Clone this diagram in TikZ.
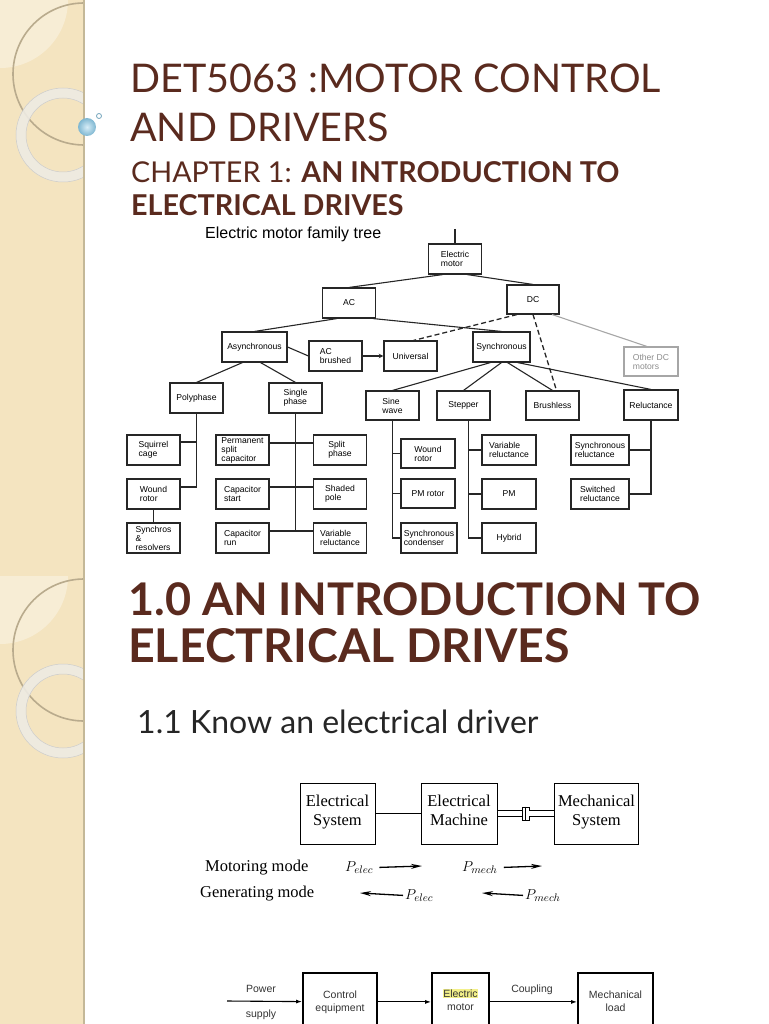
\documentclass[tikz,border=0pt]{standalone}
\usepackage{fontspec}
\setmainfont{Liberation Serif}
\setsansfont{Liberation Sans}
\newfontfamily\gillfont{Lato}
\usetikzlibrary{arrows.meta}

\definecolor{stripbeige}{HTML}{F4E4C0}
\definecolor{stripedge}{HTML}{C4B898}
\definecolor{ringtan}{HTML}{B9AB8D}
\definecolor{ringwhite}{HTML}{EEEBE3}
\definecolor{titlebrown}{HTML}{5A2A1E}
\definecolor{bubble}{HTML}{8CCBE8}
\definecolor{hilite}{HTML}{F3F08A}

\tikzset{
  treebox/.style={draw=black!85, line width=1.1pt, rectangle, minimum width=53pt, minimum height=30pt,
    inner sep=1pt, align=left, font=\sffamily\fontsize{8.6}{9}\selectfont},
  treeline/.style={line width=1.1pt, black!85},
  blockbox/.style={draw, line width=1pt, rectangle, minimum height=61pt,
    font=\fontsize{16.5}{19}\selectfont, align=center},
  drivebox/.style={draw, line width=1.8pt, rectangle, anchor=north, minimum height=58pt,
    text=black!80, font=\sffamily\fontsize{10.5}{13}\selectfont, align=center},
  flow/.style={line width=1.3pt, -{Stealth[length=11pt, width=5pt]}},
  pwr/.style={line width=1.1pt, -{Latex[length=6pt, width=4pt]}},
}

\begin{document}
\begin{tikzpicture}[x=1pt, y=-1pt, >=stealth]
\useasboundingbox (0,0) rectangle (768,1024);

% left strip of both slides
\fill[stripbeige] (0,0) rectangle (84,1024);
\foreach \oy in {0,576} {
  \begin{scope}[shift={(0,\oy)}]
    \clip (0,0) rectangle (84,576);
    \fill[white, opacity=0.35] (0,0) circle (68);
    \draw[ringtan, line width=1.6pt] (84,74) circle (71);
    \draw[ringwhite, line width=10pt, opacity=0.9] (63,135) circle (42);
    \draw[black!20, line width=0.5pt] (63,135) circle (47) (63,135) circle (37);
  \end{scope}
}
\draw[stripedge, line width=2pt] (84,0) -- (84,1024);
\shade[inner color=bubble!35!white, outer color=bubble!90!black] (87,127) circle (9);
\draw[bubble!80!black, line width=0.8pt] (99,116) circle (2.5);

% slide 1 titles
\node[anchor=base west, inner sep=0, text=titlebrown, font=\gillfont\fontsize{39.5}{40}\selectfont] (title1) at (130,93) {DET5063 :MOTOR CONTROL};
\node[anchor=base west, inner sep=0, text=titlebrown, font=\gillfont\fontsize{39.5}{40}\selectfont] (title2) at (130,142) {AND DRIVERS};
\node[anchor=base west, inner sep=0, text=titlebrown, font=\gillfont\fontsize{28.7}{29}\selectfont] (chap1) at (131,183) {CHAPTER 1: \textbf{AN INTRODUCTION TO}};
\node[anchor=base west, inner sep=0, text=titlebrown, font=\gillfont\fontsize{28.7}{29}\selectfont] (chap2) at (131,216) {\textbf{ELECTRICAL DRIVES}};
\node[anchor=base west, inner sep=0, font=\sffamily\fontsize{16}{16}\selectfont] (treetitle) at (205,238) {Electric motor family tree};

% family tree
\node[treebox] (em) at (455,259) {Electric\\motor};
\node[treebox] (ac) at (349,303) {AC};
\node[treebox, minimum width=52pt, minimum height=29pt] (dc) at (533,299.5) {DC};
\node[treebox, minimum width=65pt] (async) at (254.5,347) {Asynchronous};
\node[treebox] (acb) at (335.5,356) {AC\\brushed};
\node[treebox] (univ) at (410.5,356) {Universal};
\node[treebox, minimum width=57pt] (sync) at (501.5,347) {Synchronous};
\node[treebox, draw=black!35, text=black!45, minimum width=54pt, minimum height=29pt] (odc) at (651,361.5) {Other DC\\motors};
\node[treebox] (poly) at (196.5,398) {Polyphase};
\node[treebox] (single) at (295.5,398) {Single\\phase};
\node[treebox, minimum height=29pt] (sine) at (392.5,405.5) {Sine\\wave};
\node[treebox, minimum height=29pt] (step) at (463.5,405.5) {Stepper};
\node[treebox, minimum height=29pt] (brush) at (552.5,405.5) {Brushless};
\node[treebox, minimum width=54pt] (rel) at (651,405) {Reluctance};
\node[treebox] (sq) at (153.5,450) {Squirrel\\cage};
\node[treebox] (wr1) at (153.5,494) {Wound\\rotor};
\node[treebox] (syn1) at (153.5,538) {Synchros\\\&\\resolvers};
\node[treebox] (psc) at (242.5,450) {Permanent\\split\\capacitor};
\node[treebox] (cs) at (242.5,494) {Capacitor\\start};
\node[treebox] (cr) at (242.5,538) {Capacitor\\run};
\node[treebox] (sp) at (340,450) {Split\\phase};
\node[treebox] (shp) at (340,494) {Shaded\\pole};
\node[treebox] (vr1) at (340,538) {Variable\\reluctance};
\node[treebox, minimum width=54pt, minimum height=29pt] (wr2) at (428,453.5) {Wound\\rotor};
\node[treebox, minimum width=54pt, minimum height=29pt] (pmr) at (428,493.5) {PM rotor};
\node[treebox, minimum width=56pt] (sc) at (429,538) {Synchronous\\condenser};
\node[treebox, minimum width=54pt] (vr2) at (509,450) {Variable\\reluctance};
\node[treebox, minimum width=54pt] (pm) at (509,494) {PM};
\node[treebox, minimum width=54pt] (hyb) at (509,538) {Hybrid};
\node[treebox, minimum width=58pt] (sr) at (600,450) {Synchronous\\reluctance};
\node[treebox, minimum width=58pt] (swr) at (600,494) {Switched\\reluctance};
\coordinate (emtop) at (455,229);

\draw[treeline] (emtop) -- (em);
\draw[treeline] ([xshift=-12pt]em.south) -- (ac.north);
\draw[treeline] ([xshift=12pt]em.south) -- (dc.north);
\draw[treeline] ([xshift=-12pt]ac.south) -- (async.north);
\draw[treeline] ([xshift=24pt]ac.south) -- (sync.north);
\draw[treeline] (async.east) -- (acb.west);
\draw[treeline, ->] (acb) -- (univ);
\draw[treeline, line width=1.3pt, dash pattern=on 5pt off 3pt] ([xshift=-16pt]dc.south) -- ([xshift=3pt]univ.north);
\draw[treeline, line width=1.3pt, dash pattern=on 5pt off 3pt] (dc.south) -- ([xshift=4pt]brush.north);
\draw[treeline, black!35] ([xshift=19pt]dc.south) -- ([xshift=-4pt]odc.north);
\draw[treeline] ([xshift=-12pt]async.south) -- (poly.north);
\draw[treeline] ([xshift=6pt]async.south) -- (single.north);
\draw[treeline] ([xshift=-11pt]sync.south) -- (sine.north);
\draw[treeline] (sync.south) -- (step.north);
\draw[treeline] ([xshift=6pt]sync.south) -- (brush.north);
\draw[treeline] ([xshift=16pt]sync.south) -- (rel.north);

\draw[treeline] (poly.south) |- ([yshift=8pt]sq.east);
\draw[treeline] (poly.south) |- ([yshift=7pt]wr1.east);
\draw[treeline] (wr1) -- (syn1);
\draw[treeline] (single.south) |- ([yshift=7pt]cr.east);
\draw[treeline] ([yshift=7pt]psc.east) -- ([yshift=7pt]sp.west);
\draw[treeline] ([yshift=7pt]cs.east) -- ([yshift=7pt]shp.west);
\draw[treeline] ([yshift=7pt]cr.east) -- ([yshift=7pt]vr1.west);
\draw[treeline] (sine.south) |- (wr2.west);
\draw[treeline] (sine.south) |- (pmr.west);
\draw[treeline] (sine.south) |- (sc.west);
\draw[treeline] ([xshift=5pt]step.south) |- (vr2.west);
\draw[treeline] ([xshift=5pt]step.south) |- (pm.west);
\draw[treeline] ([xshift=5pt]step.south) |- (hyb.west);
\draw[treeline] (rel.south) |- (sr.east);
\draw[treeline] (rel.south) |- (swr.east);

% slide 2 titles
\node[anchor=base west, inner sep=0, text=titlebrown, font=\gillfont\bfseries\fontsize{45}{45}\selectfont] (sec1) at (128,615) {1.0 AN INTRODUCTION TO};
\node[anchor=base west, inner sep=0, text=titlebrown, font=\gillfont\bfseries\fontsize{46.5}{45}\selectfont] (sec2) at (128,662) {ELECTRICAL DRIVES};
\node[anchor=base west, inner sep=0, text=black!85, font=\gillfont\fontsize{32}{32}\selectfont] (sub) at (137,733) {1.1 Know an electrical driver};

% electrical / mechanical system
\node[blockbox, minimum width=75pt] (es) at (337.5,813.5) {Electrical\\System\strut};
\node[blockbox, minimum width=76pt] (mach) at (459,813.5) {Electrical\\Machine\strut};
\node[blockbox, minimum width=83pt] (ms) at (596.5,813.5) {Mechanical\\System\strut};
\node[draw, fill=white, line width=0.8pt, minimum width=7pt, minimum height=13pt, inner sep=0] (cpl) at (525.5,813.5) {};
\draw[line width=1pt] (es) -- (mach);
\draw[line width=0.8pt, double distance=5pt] (mach) -- (cpl);
\draw[line width=0.8pt, double distance=5pt] (cpl) -- (ms);
\draw[line width=0.8pt] (cpl.north) -- (cpl.south);

\node[anchor=base west, inner sep=0, font=\fontsize{16.5}{18}\selectfont] (motmode) at (205,871) {Motoring mode};
\node[anchor=base west, inner sep=0, font=\fontsize{16.5}{18}\selectfont] (genmode) at (200,897) {Generating mode};
\node[anchor=base west, inner sep=2pt, font=\fontsize{15}{15}\selectfont] (pe1) at (343,871) {$P_{elec}$};
\node[anchor=base west, inner sep=2pt, font=\fontsize{15}{15}\selectfont] (pm1) at (460,871) {$P_{mech}$};
\node[anchor=base west, inner sep=2pt, font=\fontsize{15}{15}\selectfont] (pe2) at (403,899) {$P_{elec}$};
\node[anchor=base west, inner sep=2pt, font=\fontsize{15}{15}\selectfont] (pm2) at (523,899) {$P_{mech}$};
\coordinate (pe1e) at (422,866);
\coordinate (pm1e) at (542,866);
\coordinate (pe2e) at (360,893);
\coordinate (pm2e) at (482,893);
\draw[flow] ([xshift=4pt]pe1.east) -- (pe1e);
\draw[flow] ([xshift=4pt]pm1.east) -- (pm1e);
\draw[flow] (pe2.west) -- (pe2e);
\draw[flow] (pm2.west) -- (pm2e);

% drive block diagram
\coordinate (ps) at (227,1001);
\node[drivebox, minimum width=74pt] (ctl) at (340,972) {Control\strut\\equipment\strut};
\node[drivebox, minimum width=57pt] (mot) at (460.5,972) {{\fboxsep=0.5pt\colorbox{hilite}{Electric}}\\motor\strut};
\node[drivebox, minimum width=75pt] (load) at (615.5,972) {Mechanical\strut\\load\strut};
\draw[pwr] (ps) -- (ctl);
\draw[pwr] (ctl) -- (mot);
\draw[pwr] (mot) -- (load);
\node[anchor=base, text=black!80, font=\sffamily\fontsize{10.5}{12}\selectfont] (pwrlbl) at (261,992) {Power};
\node[anchor=base, text=black!80, font=\sffamily\fontsize{10.5}{12}\selectfont] (suplbl) at (261,1017) {supply};
\node[anchor=base, text=black!80, font=\sffamily\fontsize{10.5}{12}\selectfont] (cpllbl) at (532,992) {Coupling};
\end{tikzpicture}
\end{document}
